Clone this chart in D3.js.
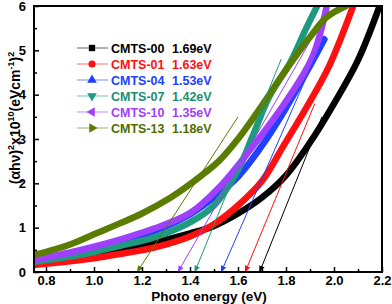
<!DOCTYPE html>
<meta charset="utf-8">
<script src="https://cdn.jsdelivr.net/npm/d3@7"></script>
<style>
  body { margin: 0; background: #fff; }
  text { font-family: Arial, "Liberation Sans", sans-serif; font-weight: bold; }
</style>
<div id="my_dataviz"></div>
<script>

// sample names, band gaps and colours
var names = ["CMTS-00", "CMTS-01", "CMTS-04", "CMTS-07", "CMTS-10", "CMTS-13"];
var gaps = [1.69, 1.63, 1.53, 1.42, 1.35, 1.18];
var colors = ["#000000", "#ff1010", "#2040ff", "#1e9a7e", "#a040ff", "#5a7d00"];
var textColors = ["#000000", "#ff1010", "#2040ff", "#1a8f73", "#a040ff", "#4f6e00"];
var markers = ["square", "circle", "triangle", "triangleDown", "triangleLeft", "triangleRight"];

// Tauc curves
var x00 = [0.75, 0.9, 1.0, 1.1, 1.25, 1.4, 1.5, 1.6, 1.7, 1.8, 1.9, 2.0, 2.1, 2.19];
var y00 = [0.2, 0.3, 0.38, 0.48, 0.66, 0.87, 1.04, 1.32, 1.68, 2.18, 2.92, 3.8, 4.78, 6.0];
var x01 = [0.75, 0.9, 1.0, 1.1, 1.25, 1.4, 1.5, 1.6, 1.7, 1.79, 1.9, 1.98, 2.08];
var y01 = [0.16, 0.24, 0.31, 0.4, 0.55, 0.8, 1.08, 1.5, 2.05, 2.85, 3.85, 4.65, 6.0];
var x04 = [0.75, 0.9, 1.0, 1.1, 1.25, 1.4, 1.5, 1.6, 1.7, 1.8, 1.9, 1.96];
var y04 = [0.25, 0.4, 0.5, 0.66, 0.92, 1.3, 1.68, 2.15, 2.85, 3.7, 4.65, 5.25];
var x07 = [0.75, 0.9, 1.0, 1.1, 1.25, 1.4, 1.5, 1.6, 1.66, 1.73, 1.82, 1.88, 1.93];
var y07 = [0.23, 0.35, 0.45, 0.58, 0.78, 1.12, 1.5, 2.3, 3.05, 3.95, 4.75, 5.45, 6.0];
var x10 = [0.75, 0.9, 1.0, 1.1, 1.25, 1.4, 1.52, 1.65, 1.8, 1.91, 1.97];
var y10 = [0.27, 0.44, 0.57, 0.72, 0.98, 1.33, 1.9, 2.75, 3.85, 4.85, 6.0];
var x13 = [0.75, 0.9, 1.0, 1.1, 1.2, 1.32, 1.4, 1.52, 1.6, 1.68, 1.8, 1.9, 1.97, 2.05];
var y13 = [0.38, 0.62, 0.85, 1.08, 1.32, 1.68, 1.98, 2.5, 3.0, 3.6, 4.56, 5.3, 5.75, 6.0];
var curvesX = [x00, x01, x04, x07, x10, x13];
var curvesY = [y00, y01, y04, y07, y10, y13];

// upper end of each linear fit (lower end sits on the gap value)
var fitTopX = [1.95, 1.92, 1.95, 1.78, 1.9, 1.6];
var fitTopY = [3.5, 3.8, 5.2, 4.8, 5.2, 3.5];

var xTicks = [0.8, 1.0, 1.2, 1.4, 1.6, 1.8, 2.0, 2.2];
var yTicks = [0, 1, 2, 3, 4, 5, 6];

var W = 392, H = 304;
var margin = { top: 6, right: 10, bottom: 32, left: 34 },
    width = W - margin.left - margin.right,
    height = H - margin.top - margin.bottom;

var svgRoot = d3.select("#my_dataviz")
    .append("svg")
    .attr("width", W)
    .attr("height", H);

var svg = svgRoot.append("g")
    .attr("transform", "translate(" + margin.left + "," + margin.top + ")");

var x = d3.scaleLinear().domain([0.75, 2.2]).range([0, width]);
var y = d3.scaleLinear().domain([0, 6]).range([height, 0]);

svg.append("clipPath").attr("id", "clip")
    .append("rect").attr("width", width).attr("height", height);

// arrow heads for the fits
var defs = svgRoot.append("defs");
colors.forEach(function (c, i) {
    defs.append("marker")
        .attr("id", "arr" + i)
        .attr("viewBox", "0 0 10 10")
        .attr("refX", 9).attr("refY", 5)
        .attr("markerWidth", 7).attr("markerHeight", 7)
        .attr("markerUnits", "userSpaceOnUse")
        .attr("orient", "auto")
        .append("path")
        .attr("d", "M0,1 L10,5 L0,9 Z")
        .attr("fill", c);
});

var line = d3.line()
    .x(function (d) { return x(d[0]); })
    .y(function (d) { return y(d[1]); })
    .curve(d3.curveCatmullRom.alpha(0.5));

var plot = svg.append("g").attr("clip-path", "url(#clip)");

curvesX.forEach(function (xs, i) {
    var pts = xs.map(function (v, j) { return [v, curvesY[i][j]]; });
    plot.append("path")
        .datum(pts)
        .attr("fill", "none")
        .attr("stroke", colors[i])
        .attr("stroke-width", 6.5)
        .attr("stroke-linecap", "round")
        .attr("d", line);
});

// linear fits with arrows to the axis
gaps.forEach(function (g, i) {
    svg.append("line")
        .attr("x1", x(fitTopX[i])).attr("y1", y(fitTopY[i]))
        .attr("x2", x(g)).attr("y2", y(0))
        .attr("stroke", colors[i])
        .attr("stroke-width", 1)
        .attr("marker-end", "url(#arr" + i + ")");
});

// axes, ticks inside
svg.append("g")
    .attr("transform", "translate(0," + height + ")")
    .call(d3.axisBottom(x).tickValues(xTicks).tickFormat(d3.format(".1f")).tickSize(-5).tickPadding(4));
svg.append("g")
    .attr("transform", "translate(0," + height + ")")
    .call(d3.axisBottom(x).tickValues(d3.range(0.9, 2.2, 0.2)).tickFormat("").tickSize(-3));
svg.append("g")
    .call(d3.axisLeft(y).tickValues(yTicks).tickFormat(d3.format("d")).tickSize(-5).tickPadding(8));
svg.append("g")
    .call(d3.axisLeft(y).tickValues(d3.range(0.5, 6, 1)).tickFormat("").tickSize(-3));

svg.selectAll(".domain").remove();
svg.selectAll(".tick line").attr("stroke", "#000").attr("stroke-width", 1.5);
svg.selectAll(".tick text").attr("font-size", 13).attr("fill", "#000");

svg.append("rect")
    .attr("width", width).attr("height", height)
    .attr("fill", "none").attr("stroke", "#000").attr("stroke-width", 2);

// axis titles
svg.append("text")
    .attr("x", width / 2 + 1).attr("y", height + 28.5)
    .attr("text-anchor", "middle")
    .attr("font-size", 13.5)
    .text("Photo energy (eV)");

var yt = svgRoot.append("text")
    .attr("transform", "translate(20," + (margin.top + 112) + ") rotate(-90)")
    .attr("text-anchor", "middle")
    .attr("font-size", 14);
yt.append("tspan").text("(\u03B1h\u03BD)");
yt.append("tspan").attr("font-size", 9).attr("dy", -6).text("2");
yt.append("tspan").attr("dy", 6).text("x10");
yt.append("tspan").attr("font-size", 9).attr("dy", -6).text("10");
yt.append("tspan").attr("dy", 6).text("(eVcm");
yt.append("tspan").attr("font-size", 9).attr("dy", -6).text("-1");
yt.append("tspan").attr("dy", 6).text(")");
yt.append("tspan").attr("font-size", 9).attr("dy", -6).text("2");

// legend
var sym = {
    square: d3.symbolSquare, circle: d3.symbolCircle, triangle: d3.symbolTriangle,
    triangleDown: d3.symbolTriangle, triangleLeft: d3.symbolTriangle, triangleRight: d3.symbolTriangle
};
var rot = { triangleDown: 180, triangleLeft: -90, triangleRight: 90 };

var legend = svgRoot.append("g");
names.forEach(function (n, i) {
    var ly = 48 + i * 16;
    legend.append("line")
        .attr("x1", 77).attr("x2", 108).attr("y1", ly).attr("y2", ly)
        .attr("stroke", colors[i]).attr("stroke-width", 1).attr("opacity", 0.6);
    legend.append("path")
        .attr("d", d3.symbol().type(sym[markers[i]]).size(40)())
        .attr("transform", "translate(92," + ly + ") rotate(" + (rot[markers[i]] || 0) + ")")
        .attr("fill", colors[i]);
    legend.append("text")
        .attr("x", 111).attr("y", ly + 4.5)
        .attr("font-size", 12.5)
        .attr("fill", textColors[i])
        .text(n);
    legend.append("text")
        .attr("x", 172).attr("y", ly + 4.5)
        .attr("font-size", 12.5)
        .attr("fill", textColors[i])
        .text(gaps[i].toFixed(2) + "eV");
});

</script>
